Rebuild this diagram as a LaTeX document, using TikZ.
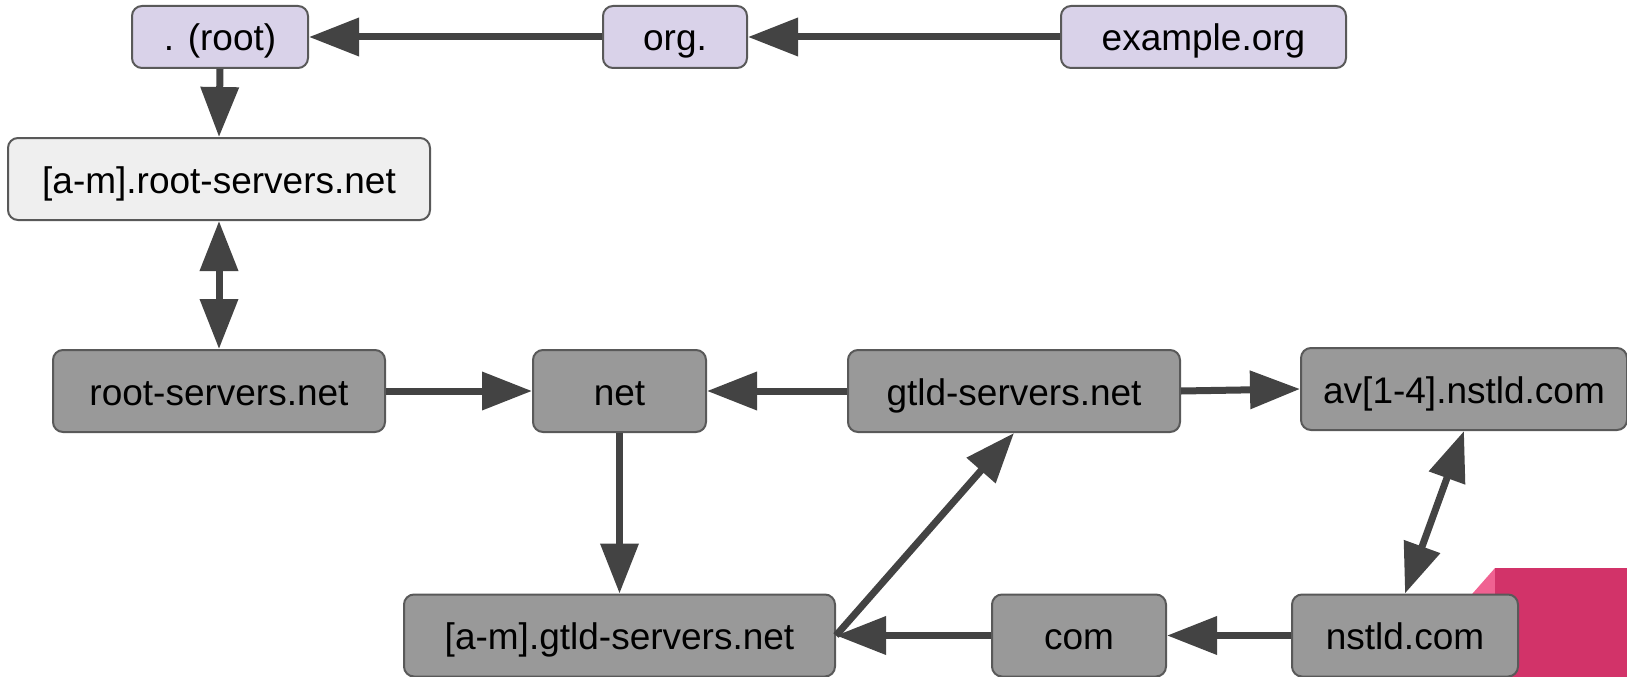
\documentclass[tikz,border=0pt]{standalone}
\usepackage{fontspec}
\setmainfont{Liberation Sans}
\usetikzlibrary{arrows.meta}
\definecolor{lilac}{HTML}{D9D2E9}
\definecolor{pale}{HTML}{EFEFEF}
\definecolor{midgray}{HTML}{999999}
\definecolor{edgegray}{HTML}{595959}
\definecolor{arrowgray}{HTML}{434343}
\definecolor{rosedark}{HTML}{D23369}
\definecolor{roselight}{HTML}{F06292}
\begin{document}
\begin{tikzpicture}[x=1pt,y=-1pt,
  box/.style={draw=edgegray, line width=2pt, rounded corners=10pt, inner sep=0pt,
    font=\fontsize{37}{41}\selectfont, text height=30pt, text depth=2pt},
  zonebox/.style={box, fill=lilac, minimum height=62pt},
  serverbox/.style={box, fill=pale, minimum height=82pt},
  dnsbox/.style={box, fill=midgray, minimum height=82pt},
  link/.style={draw=arrowgray, line width=7pt, -{Triangle[length=50pt,width=37pt]}},
  bilink/.style={draw=arrowgray, line width=7pt, {Triangle[length=50pt,width=37pt]}-{Triangle[length=50pt,width=37pt]}}]
\useasboundingbox (0,0) rectangle (1627,677);

% corner decoration
\fill[roselight] (1495,568) -- (1495,677) -- (1399,677) -- cycle;
\fill[rosedark] (1495,568) rectangle (1627,677);

% zones
\node[zonebox, minimum width=176pt] (root) at (220,37) {. (root)};
\node[zonebox, minimum width=144pt] (org) at (675,37) {org.};
\node[zonebox, minimum width=285pt] (example) at (1203.5,37) {example.org};

% servers and domains
\node[serverbox, minimum width=422pt] (rootsrv) at (219,179) {[a-m].root-servers.net};
\node[dnsbox, minimum width=332pt] (rootnet) at (219,391) {root-servers.net};
\node[dnsbox, minimum width=173pt] (net) at (619.5,391) {net};
\node[dnsbox, minimum width=332pt] (gtld) at (1014,391) {gtld-servers.net};
\node[dnsbox, minimum width=326pt] (av) at (1464,389) {av[1-4].nstld.com};
\node[dnsbox, minimum width=431pt] (gtldsrv) at (619.5,635.5) {[a-m].gtld-servers.net};
\node[dnsbox, minimum width=174pt] (com) at (1079,635.5) {com};
\node[dnsbox, minimum width=226pt] (nstld) at (1405,635.5) {nstld.com};

% delegations
\draw[link] (org) -- (root);
\draw[link] (example) -- (org);
\draw[link] (root.south) -- (rootsrv.north);
\draw[bilink] (rootsrv.south) -- (rootnet.north);
\draw[link] (rootnet) -- (net);
\draw[link] (gtld) -- (net);
\draw[link] (gtld.east) -- (av.west);
\draw[link] (net.south) -- (gtldsrv.north);
\draw[link] (gtldsrv.east) -- (gtld.south);
\draw[link] (com.west) -- (gtldsrv.east);
\draw[link] (nstld) -- (com);
\draw[bilink] (nstld.north) -- (av.south);
\end{tikzpicture}
\end{document}
